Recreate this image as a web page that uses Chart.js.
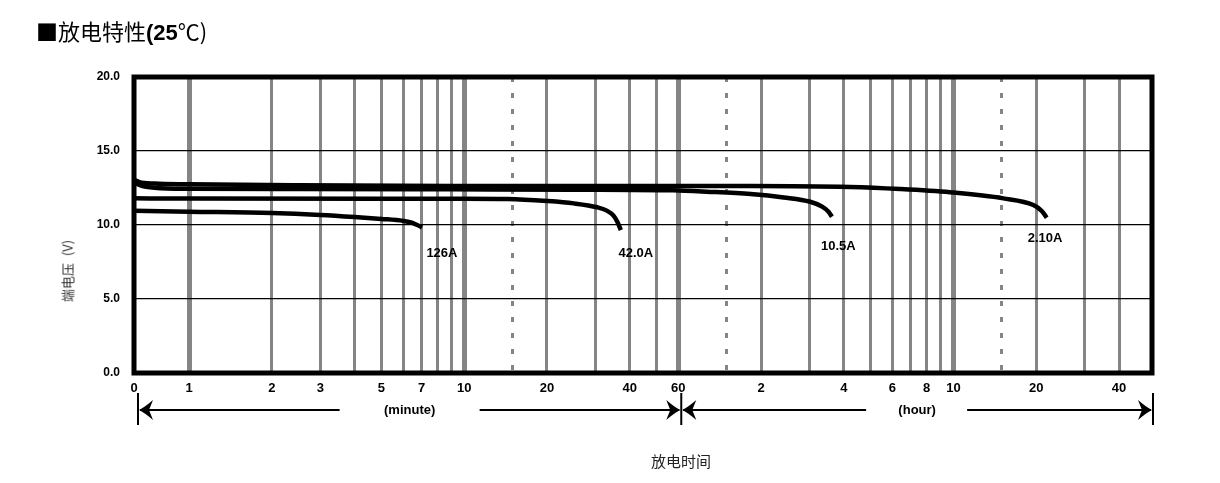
<!DOCTYPE html>
<html>
<head>
<meta charset="utf-8">
<script src="https://cdn.jsdelivr.net/npm/chart.js@4.4.1/dist/chart.umd.min.js"></script>
<style>
html,body{margin:0;padding:0;background:#fff;}
#wrap{position:relative;width:1220px;height:483px;overflow:hidden;background:#fff;}
#c{position:absolute;left:0;top:0;}
.title{position:absolute;left:36px;top:14px;font-family:"Noto Sans CJK SC",sans-serif;font-size:22px;line-height:32px;color:#000;white-space:nowrap;}
.title b{font-family:"Liberation Sans",Arial,sans-serif;font-weight:bold;}
.ytitle{position:absolute;left:67px;top:271px;transform:translate(-50%,-50%) rotate(-90deg);font-family:"Noto Sans CJK SC",sans-serif;font-size:13px;color:#333;white-space:nowrap;word-spacing:4px;}
.xtitle{position:absolute;left:681px;top:460px;transform:translate(-50%,-50%);font-family:"Noto Sans CJK SC",sans-serif;font-size:15px;color:#222;white-space:nowrap;}
</style>
</head>
<body>
<div id="wrap">
<canvas id="c" width="1220" height="483"></canvas>
<div class="title">■放电特性<b>(25</b>℃)</div>
<div class="ytitle">端电压 (V)</div>
<div class="xtitle">放电时间</div>
</div>
<script>
// ---- axis range (minutes, log scale) ----
const X_MIN = Math.pow(10, -0.2);
const X_MAX = Math.pow(10, 3.5);

// ---- x grid / tick values (minutes) ----
const xGridValues = [X_MIN, 1, 2, 3, 4, 5, 6, 7, 8, 9, 10, 15, 20, 30, 40, 50, 60, 90, 120, 180, 240, 300, 360, 420, 480, 540, 600, 900, 1200, 1800, 2400];
const xThickValues = [1, 10, 60, 600];
const xDottedValues = [15, 90, 900];
const xLabelValues = [X_MIN, 1, 2, 3, 5, 7, 10, 20, 40, 60, 120, 240, 360, 480, 600, 1200, 2400];
const xLabelTexts  = ['0', '1', '2', '3', '5', '7', '10', '20', '40', '60', '2', '4', '6', '8', '10', '20', '40'];

// ---- y ticks ----
const yTickValues = [0, 5, 10, 15, 20];

// ---- series: time (min) and voltage (V) ----
const time126 = [X_MIN, 1, 2, 3, 4, 5, 6, 6.4, 6.75, 7.03];
const volt126 = [10.96, 10.9, 10.81, 10.68, 10.54, 10.41, 10.28, 10.18, 10.0, 9.84];

const time42 = [X_MIN, 1, 5, 10, 14.4, 20, 25, 30.4, 33, 34.9, 36.1, 37.1];
const volt42 = [11.8, 11.79, 11.78, 11.78, 11.76, 11.62, 11.46, 11.2, 10.97, 10.63, 10.18, 9.66];

const time105 = [X_MIN, 0.66, 0.75, 1, 2.5, 9, 25, 57.5, 76, 110, 145, 181, 200, 211, 217];
const volt105 = [12.95, 12.7, 12.52, 12.45, 12.43, 12.41, 12.39, 12.34, 12.25, 12.09, 11.86, 11.57, 11.24, 10.9, 10.56];

const time21 = [X_MIN, 0.66, 0.75, 1, 2.5, 9, 25, 60, 110, 253, 384, 583, 911, 1171, 1257, 1310];
const volt21 = [13.05, 12.9, 12.8, 12.75, 12.68, 12.64, 12.63, 12.63, 12.64, 12.57, 12.43, 12.21, 11.80, 11.35, 10.95, 10.49];

// ---- curve labels ----
const curveNames = ['126A', '42.0A', '10.5A', '2.10A'];
const curveLabelTime = [7.29, 36.4, 198, 1117];
const curveLabelVolt = [8.11, 8.11, 8.58, 9.12];

function pts(t, v) { return t.map((x, i) => ({ x: x, y: v[i] })); }
function inList(list, v) { return list.some(a => Math.abs(a - v) / a < 1e-6); }

const lineStyle = { borderColor: '#000', borderWidth: 4.5, pointRadius: 0, pointHoverRadius: 0, pointBorderWidth: 0, fill: false, cubicInterpolationMode: 'monotone' };

const decor = {
  id: 'decor',
  afterDatasetsDraw(chart) {
    const ctx = chart.ctx, a = chart.chartArea;
    ctx.save();
    ctx.strokeStyle = '#000';
    ctx.lineWidth = 5;
    ctx.strokeRect(a.left, a.top, a.right - a.left, a.bottom - a.top);
    ctx.restore();
  },
  afterDraw(chart) {
    const ctx = chart.ctx, xs = chart.scales.x, ys = chart.scales.y, a = chart.chartArea;
    ctx.save();
    // curve labels
    ctx.fillStyle = '#000';
    ctx.font = 'bold 13px "Liberation Sans", Arial, sans-serif';
    ctx.textAlign = 'left';
    ctx.textBaseline = 'middle';
    curveNames.forEach((n, i) => {
      ctx.fillText(n, xs.getPixelForValue(curveLabelTime[i]), ys.getPixelForValue(curveLabelVolt[i]));
    });
    // arrows row
    const y = a.bottom + 37;
    const b1 = xs.getPixelForValue(X_MIN) + 4;
    const b2 = xs.getPixelForValue(60) + 3;
    const b3 = a.right + 1;
    ctx.lineWidth = 2;
    ctx.strokeStyle = '#000';
    [b1, b2, b3].forEach(bx => {
      ctx.beginPath(); ctx.moveTo(bx, y - 17); ctx.lineTo(bx, y + 15); ctx.stroke();
    });
    function head(x, dir) {
      ctx.beginPath();
      ctx.moveTo(x, y);
      ctx.quadraticCurveTo(x - dir * 6, y - 3, x - dir * 14, y - 10);
      ctx.lineTo(x - dir * 10, y);
      ctx.lineTo(x - dir * 14, y + 10);
      ctx.quadraticCurveTo(x - dir * 6, y + 3, x, y);
      ctx.closePath();
      ctx.fill();
    }
    function seg(x1, x2) { ctx.beginPath(); ctx.moveTo(x1, y); ctx.lineTo(x2, y); ctx.stroke(); }
    const m1 = (b1 + b2) / 2, m2 = (b2 + b3) / 2;
    seg(b1 + 2, m1 - 70); seg(m1 + 70, b2 - 2);
    seg(b2 + 2, m2 - 51); seg(m2 + 50, b3 - 2);
    head(b1 + 1, -1); head(b2 - 1, 1); head(b2 + 1, -1); head(b3 - 1, 1);
    ctx.font = 'bold 13px "Liberation Sans", Arial, sans-serif';
    ctx.textAlign = 'center';
    ctx.fillText('(minute)', m1, y);
    ctx.fillText('(hour)', m2, y);
    ctx.restore();
  }
};

new Chart(document.getElementById('c'), {
  type: 'line',
  data: {
    datasets: [
      Object.assign({ label: '126A', data: pts(time126, volt126) }, lineStyle),
      Object.assign({ label: '42.0A', data: pts(time42, volt42) }, lineStyle),
      Object.assign({ label: '10.5A', data: pts(time105, volt105) }, lineStyle),
      Object.assign({ label: '2.10A', data: pts(time21, volt21) }, lineStyle)
    ]
  },
  options: {
    responsive: false,
    animation: false,
    devicePixelRatio: 1,
    layout: { padding: { left: 0, top: 77, right: 68, bottom: 0 } },
    plugins: { legend: { display: false }, tooltip: { enabled: false } },
    scales: {
      x: {
        type: 'logarithmic',
        bounds: 'data',
        min: X_MIN,
        max: X_MAX,
        afterBuildTicks(scale) {
          scale.ticks = xGridValues.map(v => ({ value: v }));
          scale.min = X_MIN;
          scale.max = X_MAX;
        },
        afterFit(scale) { scale.height = 110; },
        ticks: {
          autoSkip: false, maxRotation: 0, minRotation: 0, padding: 8,
          color: '#000',
          font: { family: '"Liberation Sans", Arial, sans-serif', size: 13, weight: 'bold' },
          callback(value) {
            const i = xLabelValues.findIndex(a => Math.abs(a - value) / a < 1e-6);
            return i >= 0 ? xLabelTexts[i] : '';
          }
        },
        grid: {
          drawTicks: false,
          color(ctx) {
            if (!ctx.tick) return '#858585';
            const v = ctx.tick.value;
            if (Math.abs(v - X_MIN) < 1e-6) return 'rgba(0,0,0,0)';
            return '#858585';
          },
          lineWidth(ctx) {
            if (!ctx.tick) return 3;
            return inList(xThickValues, ctx.tick.value) ? 5 : 3;
          }
        },
        border: {
          display: false,
          dash(ctx) {
            if (!ctx.tick) return [];
            return inList(xDottedValues, ctx.tick.value) ? [5, 11] : [];
          }
        }
      },
      y: {
        min: 0,
        max: 20,
        afterBuildTicks(scale) { scale.ticks = yTickValues.map(v => ({ value: v })); },
        afterFit(scale) { scale.width = 134; },
        ticks: {
          padding: 14,
          color: '#000',
          font: { family: '"Liberation Sans", Arial, sans-serif', size: 12, weight: 'bold' },
          callback(value) { return Number(value).toFixed(1); }
        },
        grid: { drawTicks: false, color: '#000', lineWidth: 1.3 },
        border: { display: false }
      }
    }
  },
  plugins: [decor]
});
</script>
</body>
</html>
